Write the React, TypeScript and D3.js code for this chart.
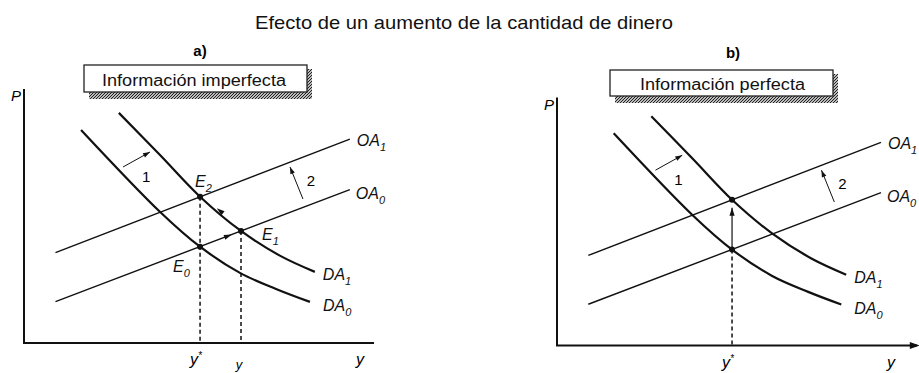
import React, { useRef, useEffect } from 'react';
import * as d3 from 'd3';

const title = "Efecto de un aumento de la cantidad de dinero";
const panelLetters = ["a)", "b)"];
const boxLabels = ["Información imperfecta", "Información perfecta"];

// curves in (output y, price P) units, both 0..100
const da0 = [[16.3, 83.9], [38.9, 51.6], [50.3, 37.9], [61.7, 27.6], [72, 21.3], [81.7, 16.2]];
const da1 = [[27.1, 90.6], [39, 73.8], [50.3, 57.6], [62, 44.1], [73.1, 34.4], [83.1, 28]];
const oa0 = [[9, 16.3], [93.1, 60.4]];
const oa1 = [[9, 35.6], [93.1, 80.3]];

// equilibria
const e0 = [50.3, 37.9];
const e1 = [62, 44.1];
const e2 = [50.3, 57.6];
const yStar = 50.3;
const yShort = 62;

// shift arrows (from, to) and their numbers
const shift1 = [[28.3, 69.3], [36, 75.2]];
const shift2 = [[79.7, 56.7], [76, 69.3]];
const shiftLabels = [{ t: "1", p: [34.9, 65.7] }, { t: "2", p: [82, 64.2] }];

// arrowheads along the adjustment path in a)
const pathTip1 = [59.4, 42.7];
const pathTip2 = [55.1, 53.1];

const font = "'Liberation Sans', Arial, sans-serif";

const App = () => {
    const chartRef = useRef(null);

    useEffect(() => {
        const svg = d3.select(chartRef.current);
        svg.selectAll("*").remove();

        const defs = svg.append("defs");
        const pat = defs.append("pattern")
            .attr("id", "shade")
            .attr("width", 3).attr("height", 3)
            .attr("patternUnits", "userSpaceOnUse");
        pat.append("rect").attr("width", 3).attr("height", 3).attr("fill", "#bbb");
        pat.append("path").attr("d", "M0,3 L3,0").attr("stroke", "#222").attr("stroke-width", 1);

        svg.append("text")
            .attr("x", 464).attr("y", 29)
            .attr("text-anchor", "middle")
            .attr("font-family", font).attr("font-size", 19)
            .attr("textLength", 418).attr("lengthAdjust", "spacingAndGlyphs")
            .attr("fill", "#111")
            .text(title);

        const head = (g, px, py, ang, len = 8, w = 2.6) => {
            g.append("path")
                .attr("d", `M0,0 L${-len},${-w} L${-len},${w} Z`)
                .attr("transform", `translate(${px},${py}) rotate(${ang})`)
                .attr("fill", "#111");
        };

        const panels = [
            { left: 24, bottom: 343, kx: 3.5, ky: 2.54, xEnd: 100, yEnd: 100, axisArrow: false,
              letter: [200, 56], box: [84, 65, 223, 27], boxText: [102, 86, 184] },
            { left: 557, bottom: 345.5, kx: 3.48, ky: 2.53, xEnd: 103.4, yEnd: 98, axisArrow: true,
              letter: [733, 58], box: [610, 70, 223, 26], boxText: [640, 90, 165] },
        ];

        panels.forEach((pn, i) => {
            const g = svg.append("g");
            const x = d3.scaleLinear().domain([0, 100]).range([pn.left, pn.left + 100 * pn.kx]);
            const y = d3.scaleLinear().domain([0, 100]).range([pn.bottom, pn.bottom - 100 * pn.ky]);

            // panel letter
            g.append("text")
                .attr("x", pn.letter[0]).attr("y", pn.letter[1])
                .attr("text-anchor", "middle")
                .attr("font-family", font).attr("font-size", 15).attr("font-weight", "bold")
                .text(panelLetters[i]);

            // boxed caption with shaded shadow
            const [bx, by, bw, bh] = pn.box;
            g.append("rect").attr("x", bx + 5).attr("y", by + 4).attr("width", bw).attr("height", bh + 3)
                .attr("fill", "url(#shade)");
            g.append("rect").attr("x", bx).attr("y", by).attr("width", bw).attr("height", bh)
                .attr("fill", "#fff").attr("stroke", "#222").attr("stroke-width", 1.3);
            g.append("text")
                .attr("x", pn.boxText[0]).attr("y", pn.boxText[1])
                .attr("font-family", font).attr("font-size", 16)
                .attr("textLength", pn.boxText[2]).attr("lengthAdjust", "spacingAndGlyphs")
                .attr("fill", "#111")
                .text(boxLabels[i]);

            // axes
            g.append("path")
                .attr("d", `M${x(0)},${y(pn.yEnd)} L${x(0)},${y(0)} L${x(pn.xEnd)},${y(0)}`)
                .attr("fill", "none").attr("stroke", "#111").attr("stroke-width", 2);
            if (pn.axisArrow) head(g, x(pn.xEnd) + 3, y(0), 0, 10, 3.5);

            g.append("text")
                .attr("x", x(0) - 3).attr("y", y(pn.yEnd) + 12)
                .attr("text-anchor", "end")
                .attr("font-family", font).attr("font-size", 15).attr("font-style", "italic")
                .text("P");

            // x-axis labels
            const ys = g.append("text")
                .attr("x", x(yStar) - 4).attr("y", y(0) + 22)
                .attr("font-family", font).attr("font-size", 16).attr("font-style", "italic")
                .attr("text-anchor", "middle");
            ys.append("tspan").text("y");
            ys.append("tspan").attr("font-size", 10).attr("dy", -6).text("*");
            g.append("text")
                .attr("x", x(96)).attr("y", y(0) + 22)
                .attr("text-anchor", "middle")
                .attr("font-family", font).attr("font-size", 16).attr("font-style", "italic")
                .text("y");

            // supply lines
            const line = d3.line().x(d => x(d[0])).y(d => y(d[1]));
            [oa0, oa1].forEach(d => {
                g.append("path").attr("d", line(d))
                    .attr("fill", "none").attr("stroke", "#111").attr("stroke-width", 1.4);
            });

            // demand curves
            const curve = d3.line().x(d => x(d[0])).y(d => y(d[1])).curve(d3.curveCatmullRom.alpha(0.5));
            [da0, da1].forEach(d => {
                g.append("path").attr("d", curve(d))
                    .attr("fill", "none").attr("stroke", "#111").attr("stroke-width", 2.2);
            });

            // curve labels
            const lab = (px, py, main, sub) => {
                const t = g.append("text")
                    .attr("x", px).attr("y", py)
                    .attr("font-family", font).attr("font-size", 16).attr("font-style", "italic")
                    .attr("fill", "#111");
                t.append("tspan").text(main);
                t.append("tspan").attr("font-size", 11).attr("dy", 5).text(sub);
            };
            const endOf = arr => arr[arr.length - 1];
            lab(x(endOf(oa1)[0]) + 7, y(endOf(oa1)[1]) + 7, "OA", "1");
            lab(x(endOf(oa0)[0]) + 6, y(endOf(oa0)[1]) + 9, "OA", "0");
            lab(x(endOf(da1)[0]) + 8, y(endOf(da1)[1]) + 8, "DA", "1");
            lab(x(endOf(da0)[0]) + 13, y(endOf(da0)[1]) + 9, "DA", "0");

            // shift arrows
            [shift1, shift2].forEach(s => {
                const [a, b] = s.map(p => [x(p[0]), y(p[1])]);
                g.append("line")
                    .attr("x1", a[0]).attr("y1", a[1]).attr("x2", b[0]).attr("y2", b[1])
                    .attr("stroke", "#111").attr("stroke-width", 1);
                head(g, b[0], b[1], Math.atan2(b[1] - a[1], b[0] - a[0]) * 180 / Math.PI, 7, 2.4);
            });
            shiftLabels.forEach(s => {
                g.append("text")
                    .attr("x", x(s.p[0])).attr("y", y(s.p[1]) + 6)
                    .attr("text-anchor", "middle")
                    .attr("font-family", font).attr("font-size", 15)
                    .text(s.t);
            });

            const dashed = (xv, yv) => {
                g.append("line")
                    .attr("x1", x(xv)).attr("y1", y(yv)).attr("x2", x(xv)).attr("y2", y(0))
                    .attr("stroke", "#111").attr("stroke-width", 1.5).attr("stroke-dasharray", "4,3");
            };
            const dot = p => {
                g.append("circle").attr("cx", x(p[0])).attr("cy", y(p[1])).attr("r", 3).attr("fill", "#111");
            };

            if (i === 0) {
                dashed(e2[0], e2[1]);
                dashed(e1[0], e1[1]);
                [e0, e1, e2].forEach(dot);
                lab(x(e2[0]) - 5, y(e2[1]) - 10, "E", "2");
                lab(x(e1[0]) + 21, y(e1[1]) + 9, "E", "1");
                lab(x(e0[0]) - 27, y(e0[1]) + 25, "E", "0");
                const ang1 = Math.atan2(y(e1[1]) - y(e0[1]), x(e1[0]) - x(e0[0])) * 180 / Math.PI;
                head(g, x(pathTip1[0]), y(pathTip1[1]), ang1, 8, 2.5);
                const ang2 = Math.atan2(y(e2[1]) - y(e1[1]), x(e2[0]) - x(e1[0])) * 180 / Math.PI;
                head(g, x(pathTip2[0]), y(pathTip2[1]), ang2, 8, 2.5);
                g.append("text")
                    .attr("x", x(yShort) - 2).attr("y", y(0) + 26)
                    .attr("text-anchor", "middle")
                    .attr("font-family", font).attr("font-size", 13).attr("font-style", "italic")
                    .text("y");
            } else {
                dashed(e0[0], e0[1]);
                g.append("line")
                    .attr("x1", x(e0[0])).attr("y1", y(e0[1]))
                    .attr("x2", x(e2[0])).attr("y2", y(e2[1]) + 8)
                    .attr("stroke", "#111").attr("stroke-width", 1.2);
                head(g, x(e2[0]), y(e2[1]) + 8, -90, 8, 2.6);
                [e0, e2].forEach(dot);
            }
        });
    }, []);

    return (
        <svg
            ref={chartRef}
            width={919}
            height={373}
            style={{ position: "absolute", left: 0, top: 0, background: "#fff" }}
        />
    );
};

export default App;
